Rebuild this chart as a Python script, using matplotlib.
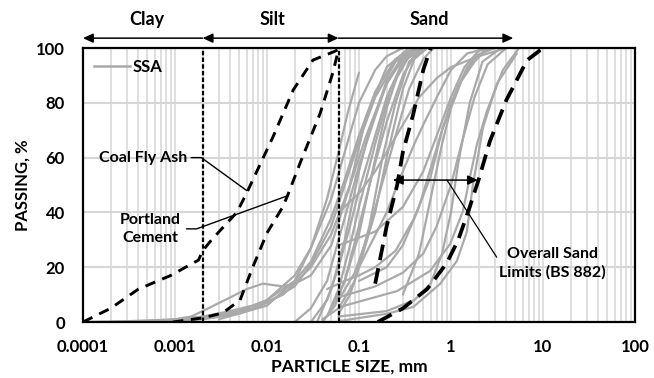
import matplotlib
matplotlib.use("Agg")
import matplotlib.pyplot as plt
from matplotlib.lines import Line2D
from matplotlib.transforms import blended_transform_factory

plt.rcParams["font.family"] = ["Lato", "DejaVu Sans"]
plt.rcParams["font.weight"] = "bold"

GRAY = "#a9a9a9"
GRID = "#d6d6d6"

# particle size (mm) / passing (%) for the sewage sludge ash samples
ssa_curves = [
    ([0.0001, 0.0003, 0.001, 0.002, 0.004, 0.007, 0.01, 0.02, 0.03, 0.05, 0.07, 0.1, 0.15, 0.25, 0.4],
     [0, 0.3, 1, 2, 4, 6, 8, 15, 22, 38, 52, 68, 84, 96, 100]),
    ([0.0006, 0.001, 0.0015, 0.002, 0.004, 0.006, 0.009, 0.015, 0.02, 0.03, 0.05, 0.08, 0.12, 0.2, 0.35],
     [0, 1, 2, 4, 9, 12, 14, 13, 14, 17, 28, 50, 75, 93, 100]),
    ([0.0002, 0.001, 0.002, 0.005, 0.01, 0.02, 0.03, 0.05, 0.07, 0.1, 0.15, 0.2, 0.3],
     [0, 0.5, 1.5, 4, 8, 17, 27, 45, 62, 80, 92, 97, 100]),
    ([0.0005, 0.002, 0.005, 0.01, 0.02, 0.03, 0.05, 0.07, 0.1, 0.15, 0.25, 0.4],
     [0, 1, 3, 7, 13, 21, 35, 50, 66, 82, 95, 100]),
    ([0.001, 0.003, 0.007, 0.015, 0.03, 0.05, 0.08, 0.12, 0.2, 0.3, 0.45],
     [0, 2, 5, 10, 20, 32, 50, 68, 87, 96, 100]),
    ([0.003, 0.01, 0.02, 0.03, 0.045, 0.06, 0.075, 0.1],
     [1, 6, 15, 27, 45, 62, 76, 91]),
    ([0.02, 0.03, 0.045, 0.06, 0.08, 0.1, 0.15, 0.2, 0.3, 0.45],
     [0, 5, 15, 30, 45, 57, 75, 87, 97, 100]),
    ([0.03, 0.045, 0.06, 0.08, 0.1, 0.15, 0.2, 0.3, 0.5],
     [0, 8, 20, 35, 48, 68, 82, 95, 100]),
    ([0.04, 0.055, 0.07, 0.1, 0.15, 0.2, 0.3, 0.4, 0.55],
     [0, 6, 15, 35, 58, 73, 90, 97, 100]),
    ([0.035, 0.05, 0.07, 0.1, 0.13, 0.2, 0.3, 0.45],
     [0, 12, 30, 55, 70, 88, 97, 100]),
    ([0.045, 0.06, 0.08, 0.1, 0.15, 0.22, 0.35, 0.5],
     [2, 12, 28, 42, 65, 85, 97, 100]),
    ([0.04, 0.06, 0.09, 0.13, 0.18, 0.25, 0.35, 0.5],
     [1, 5, 15, 35, 60, 80, 95, 100]),
    ([0.06, 0.08, 0.1, 0.15, 0.2, 0.3, 0.4, 0.55],
     [3, 10, 20, 40, 60, 85, 96, 100]),
    ([0.05, 0.07, 0.1, 0.14, 0.2, 0.28, 0.4],
     [5, 15, 32, 55, 78, 93, 100]),
    ([0.06, 0.09, 0.12, 0.17, 0.25, 0.35, 0.5, 0.65],
     [8, 18, 30, 48, 68, 85, 96, 100]),
    ([0.045, 0.07, 0.1, 0.15, 0.25, 0.4, 0.6, 0.8, 1.2, 1.8, 3],
     [12, 15, 17, 20, 26, 38, 53, 70, 86, 97, 100]),
    ([0.1, 0.2, 0.3, 0.4, 0.5, 0.7, 1.0, 1.5, 2.5],
     [20, 40, 55, 65, 72, 82, 92, 98, 100]),
    ([0.06, 0.15, 0.3, 0.5, 0.7, 1.0, 1.4, 2.0, 3.0],
     [28, 33, 42, 55, 68, 82, 93, 99, 100]),
    ([0.062, 0.2, 0.39, 0.76, 1.16, 1.49, 1.73, 2.23, 3.16, 5.2],
     [0.4, 3, 5.5, 13.9, 22.3, 33, 50, 71, 87, 98]),
    ([0.062, 0.26, 0.59, 0.98, 1.35, 1.61, 1.92, 2.46, 3.67, 5.5],
     [5.5, 11.3, 18.6, 28.5, 40.5, 53, 65, 77, 92, 100]),
    ([0.06, 0.2, 0.4, 0.6, 0.8, 1.0, 1.2, 1.6, 2.2, 3.5],
     [2, 4, 8, 14, 25, 40, 58, 80, 95, 100]),
    ([0.06, 0.15, 0.3, 0.5, 0.7, 1.0, 1.3, 1.8, 2.5, 4],
     [9, 13, 18, 25, 35, 50, 65, 82, 94, 100]),
    ([0.1, 0.2, 0.3, 0.45, 0.6, 0.8, 1.0, 1.5, 2.5],
     [15, 20, 28, 42, 56, 70, 80, 93, 100]),
    ([0.06, 0.1, 0.15, 0.2, 0.3, 0.45, 0.7, 1.0, 2.0, 4.0],
     [40, 47, 55, 62, 72, 82, 89, 93, 97, 100]),
    ([0.3, 0.45, 0.6, 0.8, 1.0, 1.3, 1.8, 2.5],
     [10, 25, 45, 65, 78, 88, 95, 100]),
]

coal_size = [0.0001, 0.0002, 0.0004, 0.0009, 0.0018, 0.002, 0.0025, 0.0047, 0.006, 0.0116, 0.0193, 0.0316, 0.052, 0.065]
coal_pass = [0, 5, 12, 17, 22.6, 26, 30, 40, 47, 67.5, 84.7, 95.6, 98.5, 100]

cement_size = [0.00095, 0.002, 0.0033, 0.0051, 0.007, 0.01, 0.0146, 0.0165, 0.0229, 0.0377, 0.052, 0.059, 0.06]
cement_pass = [0, 1.5, 3.3, 8, 20, 32.5, 41.6, 45.6, 58, 76, 91, 98.5, 100]

sand_fine_size = [0.15, 0.2, 0.26, 0.3, 0.39, 0.5, 0.6]
sand_fine_pass = [14, 35, 50, 62, 76, 92, 100]

sand_coarse_size = [0.16, 0.3, 0.55, 0.9, 1.2, 1.6, 2.0, 2.65, 4.0, 6.7, 10]
sand_coarse_pass = [0, 5, 12, 21.5, 30, 42, 52, 66, 81, 95.5, 100]

clay_limit = 0.002
silt_limit = 0.06
sand_top = 4.75

x_ticks = [0.0001, 0.001, 0.01, 0.1, 1, 10, 100]
x_tick_labels = ["0.0001", "0.001", "0.01", "0.1", "1", "10", "100"]

fig = plt.figure(figsize=(6.54, 3.78), dpi=100)
ax = fig.add_axes([0.1269, 0.1481, 0.8440, 0.7249])

ax.set_xscale("log")
ax.set_xlim(0.0001, 100)
ax.set_ylim(0, 100)
ax.set_xticks(x_ticks)
ax.set_xticklabels(x_tick_labels)
ax.set_yticks(range(0, 101, 20))
ax.tick_params(axis="both", which="both", length=0, labelsize=12)
ax.tick_params(axis="x", pad=12)
ax.tick_params(axis="y", pad=13)
ax.grid(which="both", axis="x", color=GRID, lw=1.1)
ax.grid(which="major", axis="y", color=GRID, lw=1.5)
ax.set_axisbelow(True)
for spine in ax.spines.values():
    spine.set_color("black")
    spine.set_linewidth(1.6)

for sizes, passing in ssa_curves:
    ax.plot(sizes, passing, color=GRAY, lw=1.6, solid_capstyle="round", zorder=2)

ax.plot(coal_size, coal_pass, color="black", lw=2.1, dashes=(3.6, 2.6), zorder=3)
ax.plot(cement_size, cement_pass, color="black", lw=2.1, dashes=(3.6, 2.6), zorder=3)
ax.plot(sand_fine_size, sand_fine_pass, color="black", lw=2.7, dashes=(4.2, 2.2), zorder=3)
ax.plot(sand_coarse_size, sand_coarse_pass, color="black", lw=2.7, dashes=(4.2, 2.2), zorder=3)

for lim in (clay_limit, silt_limit):
    ax.plot([lim, lim], [0, 100], color="black", lw=1.6, dashes=(2, 1), zorder=3)

# soil class arrows above the plot
trans = blended_transform_factory(ax.transData, ax.transAxes)
arrow_y = 1.036
head_one = "-|>,head_length=0.6,head_width=0.28"
head_two = "<|-|>,head_length=0.6,head_width=0.28"
ax.annotate("", xy=(0.0001, arrow_y), xytext=(clay_limit, arrow_y), xycoords=trans, textcoords=trans,
            arrowprops=dict(arrowstyle=head_one, color="black", lw=1.1, shrinkA=0, shrinkB=0), annotation_clip=False)
ax.annotate("", xy=(silt_limit, arrow_y), xytext=(clay_limit, arrow_y), xycoords=trans, textcoords=trans,
            arrowprops=dict(arrowstyle=head_two, color="black", lw=1.1, shrinkA=0, shrinkB=0), annotation_clip=False)
ax.annotate("", xy=(sand_top, arrow_y), xytext=(silt_limit, arrow_y), xycoords=trans, textcoords=trans,
            arrowprops=dict(arrowstyle=head_one, color="black", lw=1.1, shrinkA=0, shrinkB=0), annotation_clip=False)
for label, xpos in [("Clay", 0.0005), ("Silt", 0.0115), ("Sand", 0.58)]:
    ax.text(xpos, 1.105, label, transform=trans, ha="center", va="center", fontsize=13, fontweight="bold")

legend_line = Line2D([], [], color=GRAY, lw=1.8)
ax.legend([legend_line], ["SSA"], loc="upper left", frameon=False, handlelength=2.2, handletextpad=0.15,
          borderaxespad=0.25, prop=dict(size=12, weight="bold"))

ann_kw = dict(fontsize=11.5, fontweight="bold", va="center")
ax.annotate("Coal Fly Ash", xy=(0.006, 48), xytext=(0.00135, 60), ha="right",
            arrowprops=dict(arrowstyle="-", color="black", lw=1.0, shrinkA=1, shrinkB=0,
                            connectionstyle="angle,angleA=0,angleB=-36,rad=0"), **ann_kw)
ax.annotate("Portland\nCement", xy=(0.0165, 46), xytext=(0.00054, 34), ha="center", multialignment="center",
            linespacing=1.35,
            arrowprops=dict(arrowstyle="-", color="black", lw=1.0, shrinkA=2, shrinkB=0,
                            relpos=(1.0, 0.5), connectionstyle="angle,angleA=0,angleB=20,rad=0"), **ann_kw)
ax.annotate("", xy=(0.234, 51.8), xytext=(1.96, 51.8),
            arrowprops=dict(arrowstyle=head_two, color="black", lw=1.1, shrinkA=0, shrinkB=0))
ax.annotate("Overall Sand\nLimits (BS 882)", xy=(0.905, 51.8), xytext=(12.8, 21.5), ha="center",
            multialignment="center", linespacing=1.35,
            arrowprops=dict(arrowstyle="-", color="black", lw=0.9, shrinkA=0, shrinkB=0, relpos=(0.0, 0.55)),
            **ann_kw)

ax.set_xlabel("PARTICLE SIZE, mm", fontsize=12.5, fontweight="bold")
ax.xaxis.set_label_coords(0.482, -0.135)
ax.set_ylabel("PASSING, %", fontsize=12, fontweight="bold", labelpad=4)

fig.savefig("out.png", dpi=100)
